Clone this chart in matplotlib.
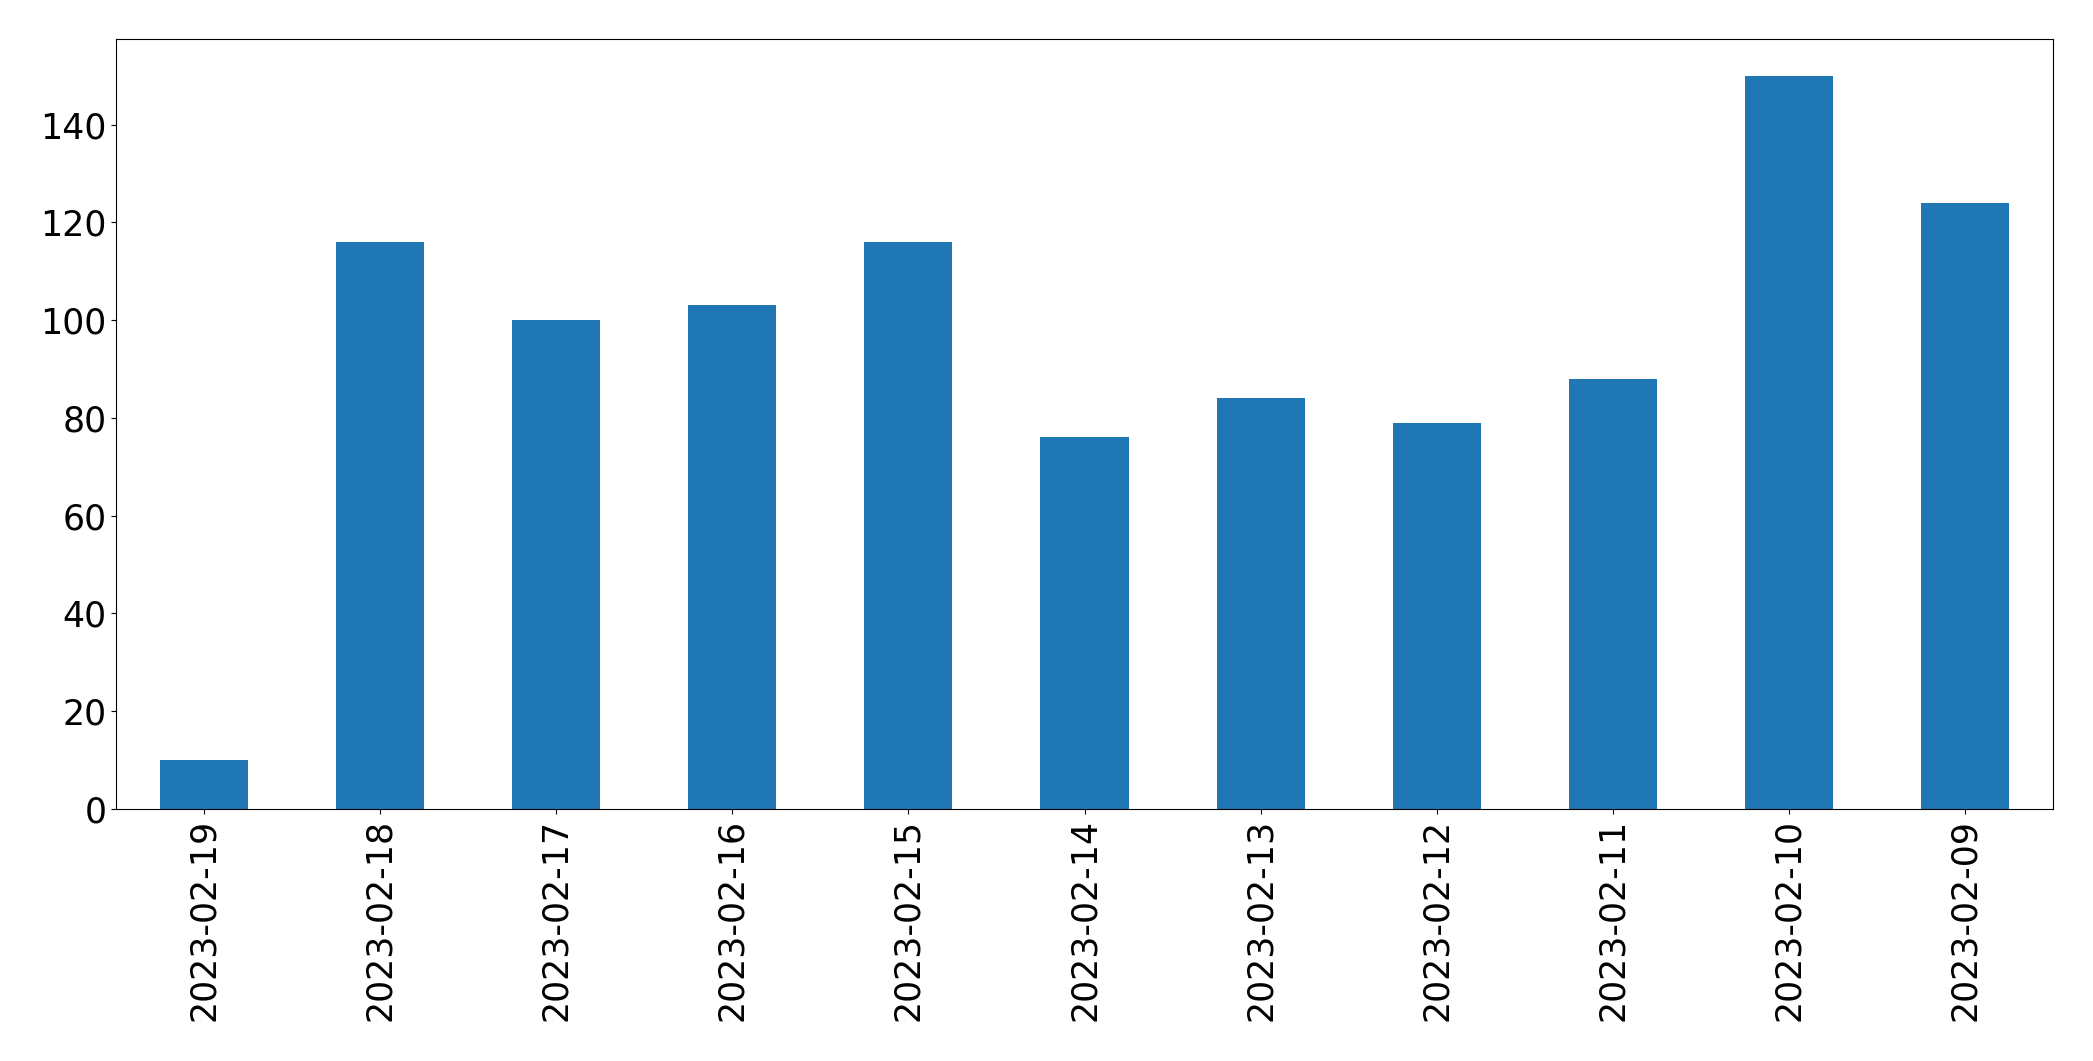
import matplotlib
matplotlib.use("Agg")
import matplotlib.pyplot as plt
import numpy as np

# daily counts, newest first (as in the source frame)
dates = ["2023-02-19", "2023-02-18", "2023-02-17", "2023-02-16", "2023-02-15",
         "2023-02-14", "2023-02-13", "2023-02-12", "2023-02-11", "2023-02-10",
         "2023-02-09"]
counts = [10, 116, 100, 103, 116, 76, 84, 79, 88, 150, 124]

fig = plt.figure(figsize=(20.93, 10.61), dpi=100)
ax = fig.add_axes([116 / 2093, 1 - 809 / 1061, (2053 - 116) / 2093, (809 - 39) / 1061])

x = np.arange(len(dates))
ax.bar(x, counts, width=0.5, color="#1f77b4")
ax.set_xlim(-0.5, len(dates) - 0.5)
ax.set_ylim(0, 157.5)
ax.set_xticks(x)
ax.set_xticklabels(dates, rotation=90)
ax.tick_params(labelsize=25)

fig.savefig("out.png", dpi=100)
